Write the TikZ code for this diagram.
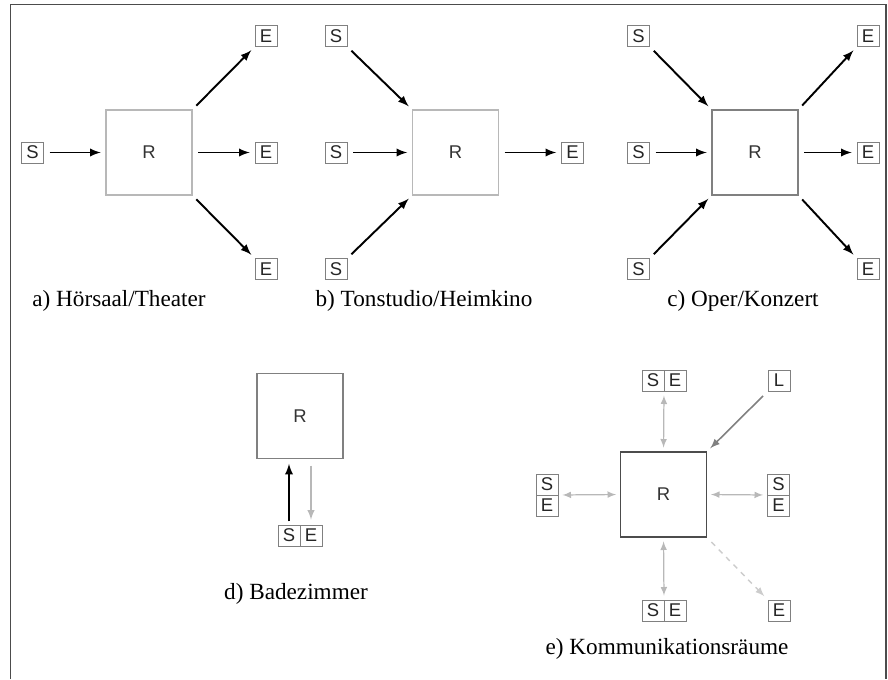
\documentclass[tikz,border=0pt]{standalone}
\usepackage{fontspec}
\setmainfont{Liberation Serif}
\setsansfont{Liberation Sans}
\usetikzlibrary{positioning}
\definecolor{framegray}{gray}{0.3}
\definecolor{boxgray}{gray}{0.5}
\definecolor{palegray}{gray}{0.72}
\definecolor{dashgray}{gray}{0.8}
\newcommand{\capt}[1]{{\fontsize{13.2}{15}\selectfont #1}}

\begin{document}
\begin{tikzpicture}[x=0.02cm,y=-0.02cm,>=latex,
    every node/.style={inner sep=0pt,outer sep=0pt},
    lbl/.style={draw=boxgray,line width=0.5pt,text=black!85,
                font=\sffamily\fontsize{10.5}{11}\selectfont,
                minimum width=0.44cm,minimum height=0.42cm},
    room/.style={draw=boxgray,line width=0.6pt,text=black!80,
                 font=\sffamily\fontsize{10.5}{11}\selectfont,
                 minimum width=1.72cm,minimum height=1.70cm},
    sig/.style={->,line width=1.1pt,shorten <=3.5pt,shorten >=3pt},
    duo/.style={<->,draw=palegray,line width=0.7pt,shorten <=2.5pt,shorten >=2.5pt}]
	\useasboundingbox (0,0) rectangle (888,679);
	\draw[framegray,line width=1.1pt] (10.5,679) -- (10.5,4.5) -- (886,4.5) -- (886,679);

	%% a) one source, three receivers
	\node[lbl] (sa) at (32.5,152.5) {S};
	\node[room,draw=palegray] (ra) at (149,152.5) {R};
	\node[lbl] (ea1) at (266,36) {E};
	\node[lbl] (ea2) at (266,152.5) {E};
	\node[lbl] (ea3) at (266,269) {E};
	\draw[sig] (sa) -- (ra);
	\draw[sig] (ra.north east) -- (ea1.south west);
	\draw[sig] (ra) -- (ea2);
	\draw[sig] (ra.south east) -- (ea3.north west);
	\node[anchor=base] (capa) at (119,306) {\capt{a) Hörsaal/Theater}};

	%% b) three sources, one receiver
	\node[lbl] (sb1) at (336,36) {S};
	\node[lbl] (sb2) at (336,152.5) {S};
	\node[lbl] (sb3) at (336,269) {S};
	\node[room,draw=palegray] (rb) at (455.5,152.5) {R};
	\node[lbl] (eb) at (572.5,152.5) {E};
	\draw[sig] (sb1.south east) -- (rb.north west);
	\draw[sig] (sb2) -- (rb);
	\draw[sig] (sb3.north east) -- (rb.south west);
	\draw[sig] (rb) -- (eb);
	\node[anchor=base] (capb) at (424,306) {\capt{b) Tonstudio/Heimkino}};

	%% c) three sources, three receivers
	\node[lbl] (sc1) at (638.5,36) {S};
	\node[lbl] (sc2) at (638.5,152.5) {S};
	\node[lbl] (sc3) at (638.5,269) {S};
	\node[room] (rc) at (755,152.5) {R};
	\node[lbl] (ec1) at (868,36) {E};
	\node[lbl] (ec2) at (868,152.5) {E};
	\node[lbl] (ec3) at (868,269) {E};
	\draw[sig] (sc1.south east) -- (rc.north west);
	\draw[sig] (sc2) -- (rc);
	\draw[sig] (sc3.north east) -- (rc.south west);
	\draw[sig] (rc.north east) -- (ec1.south west);
	\draw[sig] (rc) -- (ec2);
	\draw[sig] (rc.south east) -- (ec3.north west);
	\node[anchor=base] (capc) at (743,306) {\capt{c) Oper/Konzert}};

	%% d) source and receiver in one
	\node[room] (rd) at (300,416) {R};
	\node[lbl] (sd) at (289,535.5) {S};
	\node[lbl,right=0pt of sd] (ed) {E};
	\draw[sig,shorten <=2pt] (sd.north) -- (sd.north |- rd.south);
	\draw[->,palegray,line width=0.9pt,shorten <=4pt,shorten >=3pt] (ed.north |- rd.south) -- (ed.north);
	\node[anchor=base] (capd) at (296,599) {\capt{d) Badezimmer}};

	%% e) everybody talks
	\node[room,draw=black!70] (re) at (663.5,494.5) {R};
	\node[lbl] (st) at (653,380.5) {S};
	\node[lbl,right=0pt of st] (et) {E};
	\node[lbl] (le) at (779,380.5) {L};
	\node[lbl] (sl) at (547,484.5) {S};
	\node[lbl,below=0pt of sl] (el) {E};
	\node[lbl] (sr) at (778.5,484.5) {S};
	\node[lbl,below=0pt of sr] (er) {E};
	\node[lbl] (sbm) at (653,610.5) {S};
	\node[lbl,right=0pt of sbm] (ebm) {E};
	\node[lbl] (ex) at (779,610.5) {E};
	\draw[duo] (st.south east) -- (re.north);
	\draw[duo] (sl.south east) -- (re.west);
	\draw[duo] (re.east) -- (sr.south west);
	\draw[duo] (re.south) -- (sbm.north east);
	\draw[->,draw=boxgray,line width=0.9pt,shorten <=4pt,shorten >=3pt] (le.south west) -- (re.north east);
	\draw[->,draw=dashgray,line width=0.8pt,dashed,shorten <=4pt,shorten >=3pt] (re.south east) -- (ex.north west);
	\node[anchor=base] (cape) at (667,654) {\capt{e) Kommunikationsräume}};
\end{tikzpicture}
\end{document}
